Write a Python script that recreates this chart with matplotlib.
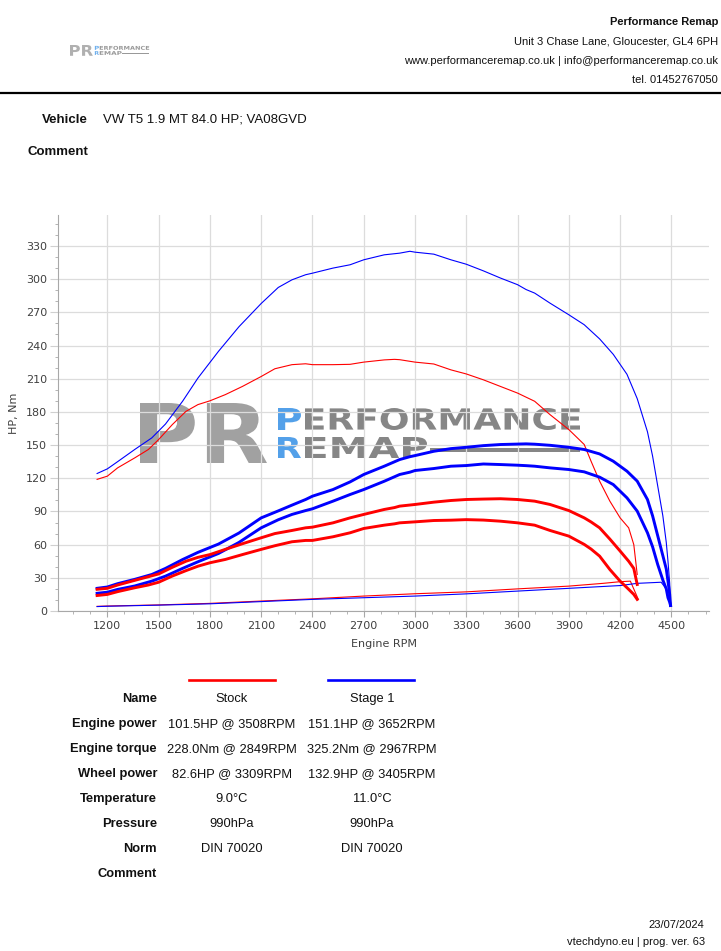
import matplotlib
matplotlib.use("Agg")
import matplotlib.pyplot as plt
from matplotlib.lines import Line2D
from matplotlib.textpath import TextPath
from matplotlib.patches import PathPatch, Rectangle
from matplotlib.font_manager import FontProperties
from matplotlib.transforms import Affine2D
from matplotlib.ticker import MultipleLocator

W, H = 721, 951

# ---- dyno data ----
# Stock run
stock_rpm = [1140, 1200, 1260, 1360, 1440, 1500, 1580, 1660, 1730, 1800, 1890, 1990, 2100, 2180,
             2280, 2360, 2400, 2520, 2620, 2700, 2820, 2880, 2910, 3000, 3110, 3210, 3300, 3400,
             3500, 3600, 3700, 3790, 3900, 3990, 4030, 4080, 4140, 4200, 4250, 4280, 4300]
stock_torque = [119.0, 121.9, 129.4, 138.4, 146.0, 155.0, 168.5, 180.5, 186.6, 190.0, 195.6, 203.0,
                212.0, 219.0, 222.7, 223.5, 222.7, 222.7, 223.0, 225.0, 227.0, 227.5, 227.2, 225.0,
                223.3, 218.0, 214.3, 209.0, 203.0, 197.0, 189.6, 177.5, 164.0, 150.5, 135.4, 117.4,
                99.3, 84.2, 75.2, 60.0, 33.0]
stock_power = [19.6, 20.5, 23.5, 27.7, 31.0, 33.5, 39.5, 45.0, 48.5, 51.0, 55.7, 60.8, 66.2, 70.0,
               72.8, 75.2, 75.8, 79.7, 84.2, 87.3, 91.8, 93.5, 94.8, 96.3, 98.4, 99.9, 100.8, 101.2,
               101.5, 100.8, 99.3, 96.3, 90.8, 84.2, 80.5, 75.2, 65.0, 54.2, 45.0, 38.5, 24.0]
stock_wheel = [14.0, 15.0, 17.5, 21.0, 23.5, 26.0, 31.6, 36.5, 40.5, 43.6, 46.6, 51.0, 55.7, 59.0,
               62.6, 63.8, 63.8, 67.1, 70.7, 74.6, 77.6, 78.8, 79.7, 80.6, 81.8, 82.1, 82.6, 82.2,
               81.2, 79.7, 77.6, 72.8, 67.7, 60.2, 56.0, 49.6, 37.5, 27.0, 19.6, 15.0, 10.5]
stock_loss_rpm = [1140, 1200, 1500, 1800, 2100, 2400, 2700, 3000, 3300, 3600, 3900, 4100, 4200, 4260, 4305]
stock_loss = [4.2, 4.5, 5.5, 6.9, 9.0, 11.0, 13.5, 15.6, 17.3, 20.0, 22.5, 25.0, 26.5, 27.0, 11.0]

# Stage 1 run
stage1_rpm = [1140, 1200, 1260, 1360, 1460, 1540, 1640, 1730, 1850, 1970, 2100, 2200, 2280, 2360,
              2400, 2520, 2620, 2700, 2820, 2910, 2970, 3000, 3110, 3210, 3300, 3400, 3500, 3600,
              3650, 3700, 3790, 3900, 3990, 4080, 4160, 4240, 4300, 4360, 4390, 4420, 4450, 4470,
              4480, 4490, 4495]
stage1_torque = [124.3, 128.5, 135.0, 146.0, 156.5, 169.0, 189.6, 210.6, 234.7, 257.0, 278.0, 292.5,
                 299.4, 304.0, 305.4, 310.0, 313.0, 317.5, 322.0, 323.5, 325.2, 324.4, 322.6, 317.5,
                 313.5, 307.5, 301.0, 295.0, 290.6, 287.4, 278.3, 267.8, 258.8, 246.0, 232.0, 214.0,
                 192.0, 162.0, 140.0, 113.0, 86.0, 62.0, 45.0, 25.0, 5.0]
stage1_power = [20.5, 21.7, 24.7, 28.6, 33.0, 38.5, 46.5, 53.0, 60.5, 70.5, 84.2, 90.5, 95.7, 100.8,
                103.8, 109.8, 116.7, 123.4, 130.9, 136.9, 139.5, 140.5, 144.4, 146.8, 148.0, 149.5,
                150.5, 150.9, 151.1, 150.8, 149.8, 148.0, 146.0, 142.0, 135.4, 126.4, 117.4, 100.8,
                86.0, 68.0, 50.0, 38.0, 27.0, 15.0, 5.0]
stage1_wheel = [16.0, 17.0, 19.5, 22.6, 27.0, 31.5, 38.5, 44.5, 52.0, 62.0, 75.2, 82.5, 87.3, 90.8,
                92.4, 99.3, 105.3, 109.8, 117.3, 123.4, 125.5, 127.0, 128.8, 130.9, 131.5, 132.9,
                132.4, 131.8, 131.4, 130.9, 129.4, 127.9, 125.8, 121.0, 114.3, 102.3, 90.3, 70.7,
                58.0, 42.0, 28.0, 20.0, 12.0, 8.0, 5.0]
stage1_loss_rpm = [1140, 1200, 1500, 1800, 2100, 2400, 2700, 3000, 3300, 3600, 3900, 4200, 4300, 4440, 4470, 4490]
stage1_loss = [4.0, 4.3, 5.3, 6.5, 8.5, 10.5, 12.0, 13.5, 15.5, 18.0, 20.5, 23.0, 25.0, 26.0, 20.0, 9.0]

# ---- texts ----
header_lines = ["Performance Remap", "Unit 3 Chase Lane, Gloucester, GL4 6PH",
                "www.performanceremap.co.uk | info@performanceremap.co.uk", "tel. 01452767050"]
vehicle = "VW T5 1.9 MT 84.0 HP; VA08GVD"
row_labels = ["Name", "Engine power", "Engine torque", "Wheel power", "Temperature",
              "Pressure", "Norm", "Comment"]
stock_col = ["Stock", "101.5HP @ 3508RPM", "228.0Nm @ 2849RPM", "82.6HP @ 3309RPM",
             "9.0°C", "990hPa", "DIN 70020", ""]
stage1_col = ["Stage 1", "151.1HP @ 3652RPM", "325.2Nm @ 2967RPM", "132.9HP @ 3405RPM",
              "11.0°C", "990hPa", "DIN 70020", ""]
footer_lines = ["23/07/2024", "vtechdyno.eu | prog. ver. 63"]

RED = "#ff0000"
BLUE = "#0000ff"
SANS = "Liberation Sans"
PX = 0.72  # points per pixel at 100 dpi

fig = plt.figure(figsize=(W / 100, H / 100), dpi=100)
fig.patch.set_facecolor("white")


def fx(x):
    return x / W


def fy(y):
    return 1 - y / H


def box_text(target, s, x0, y0, x1, y1, color, zorder=0.3, alpha=1.0):
    # text stretched into a pixel box (top-left origin)
    tp = TextPath((0, 0), s, size=10, prop=FontProperties(family="DejaVu Sans", weight="bold"))
    ext = tp.get_extents()
    sx = (x1 - x0) / W / ext.width
    sy = (y1 - y0) / H / ext.height
    tr = Affine2D().translate(-ext.x0, -ext.y0).scale(sx, sy).translate(fx(x0), fy(y1)) + fig.transFigure
    p = PathPatch(tp, transform=tr, facecolor=color, edgecolor="none", zorder=zorder, alpha=alpha)
    target.add_artist(p)
    return p


def logo(target, x0, y0, scale, zorder=0.3, alpha=1.0):
    s = scale
    box_text(target, "PR", x0, y0, x0 + 127 * s, y0 + 60 * s, "#9c9c9c", zorder, alpha)
    box_text(target, "P", x0 + 138 * s, y0 + 5 * s, x0 + 161 * s, y0 + 27 * s, "#4a9be8", zorder, alpha)
    box_text(target, "ERFORMANCE", x0 + 165 * s, y0 + 5 * s, x0 + 440 * s, y0 + 27 * s, "#808080", zorder, alpha)
    box_text(target, "R", x0 + 138 * s, y0 + 34 * s, x0 + 161 * s, y0 + 55 * s, "#4a9be8", zorder, alpha)
    box_text(target, "EMAP", x0 + 165 * s, y0 + 34 * s, x0 + 287 * s, y0 + 55 * s, "#808080", zorder, alpha)
    r = Rectangle((fx(x0 + 290 * s), fy(y0 + 49 * s)), (150 * s) / W, (4.5 * s) / H,
                  transform=fig.transFigure, facecolor="#808080", edgecolor="none",
                  zorder=zorder, alpha=alpha)
    target.add_artist(r)


# ---- header ----
for txt, yy, wt in zip(header_lines, [22, 42, 61, 80], ["bold", "normal", "normal", "normal"]):
    fig.text(fx(718), fy(yy), txt, ha="right", va="center", fontsize=8, fontweight=wt,
             family=SANS, color="#111111")
logo(fig, 70, 45, 0.18, zorder=1, alpha=0.8)
fig.add_artist(Line2D([0, 1], [fy(93), fy(93)], color="black", lw=1.6, transform=fig.transFigure))
fig.text(fx(88), fy(120), "Vehicle", ha="right", va="center", fontsize=9.5, fontweight="bold",
         family=SANS, color="#111111")
fig.text(fx(103), fy(120), vehicle, ha="left", va="center", fontsize=9.5, family=SANS, color="#111111")
fig.text(fx(28), fy(152), "Comment", ha="left", va="center", fontsize=9.5, fontweight="bold",
         family=SANS, color="#111111")

# ---- chart ----
ax = fig.add_axes([fx(58.3), fy(611), (709 - 58.3) / W, (611 - 215) / H])
ax.set_xlim(913, 4720)
ax.set_ylim(0, 358)
ax.set_axisbelow(True)

ax.xaxis.set_major_locator(MultipleLocator(300))
ax.xaxis.set_minor_locator(MultipleLocator(100))
ax.yaxis.set_major_locator(MultipleLocator(30))
ax.yaxis.set_minor_locator(MultipleLocator(10))
ax.set_xticks(range(1200, 4501, 300))
ax.grid(True, which="major", color="#dcdcdc", lw=0.9)
for side in ["top", "right"]:
    ax.spines[side].set_visible(False)
for side in ["left", "bottom"]:
    ax.spines[side].set_color("#a8a8a8")
ax.tick_params(axis="y", which="major", length=8 * PX, color="#d0d0d0", labelsize=8,
               labelcolor="#404040", pad=3 * PX)
ax.tick_params(axis="x", which="major", length=6 * PX, color="#a8a8a8", labelsize=8,
               labelcolor="#404040", pad=4 * PX)
ax.tick_params(which="minor", length=3 * PX, color="#a8a8a8")
for lab in ax.get_xticklabels() + ax.get_yticklabels():
    lab.set_family("DejaVu Sans")
ax.set_xlabel("Engine RPM", fontsize=8, color="#404040", labelpad=6)
ax.set_ylabel("HP, Nm", fontsize=8, color="#404040", labelpad=5)

logo(ax, 140, 403, 1.0, zorder=0.3, alpha=0.95)

thin, thick = 0.8, 2.1
ax.plot(stage1_rpm, stage1_torque, color=BLUE, lw=thin, zorder=3)
ax.plot(stock_rpm, stock_torque, color=RED, lw=thin, zorder=3)
ax.plot(stock_loss_rpm, stock_loss, color=RED, lw=thin, zorder=3)
ax.plot(stage1_loss_rpm, stage1_loss, color=BLUE, lw=thin, zorder=3)
ax.plot(stage1_rpm, stage1_power, color=BLUE, lw=thick, zorder=3)
ax.plot(stage1_rpm, stage1_wheel, color=BLUE, lw=thick, zorder=3)
ax.plot(stock_rpm, stock_power, color=RED, lw=thick, zorder=3)
ax.plot(stock_rpm, stock_wheel, color=RED, lw=thick, zorder=3)

# ---- results table ----
fig.add_artist(Line2D([fx(189), fx(275)], [fy(680), fy(680)], color=RED, lw=1.9, transform=fig.transFigure))
fig.add_artist(Line2D([fx(328), fx(414)], [fy(680), fy(680)], color=BLUE, lw=1.9, transform=fig.transFigure))
for i, (lab, a, b) in enumerate(zip(row_labels, stock_col, stage1_col)):
    yy = fy(699 + 25 * i)
    fig.text(fx(157), yy, lab, ha="right", va="center", fontsize=9.3, fontweight="bold",
             family=SANS, color="#111111")
    fig.text(fx(232), yy, a, ha="center", va="center", fontsize=9.3, family=SANS, color="#111111")
    fig.text(fx(372), yy, b, ha="center", va="center", fontsize=9.3, family=SANS, color="#111111")

# ---- footer ----
fig.text(fx(704), fy(925), footer_lines[0], ha="right", va="center", fontsize=8, family=SANS, color="#111111")
fig.text(fx(705), fy(942), footer_lines[1], ha="right", va="center", fontsize=8, family=SANS, color="#111111")

fig.savefig("out.png", dpi=100, facecolor="white")
